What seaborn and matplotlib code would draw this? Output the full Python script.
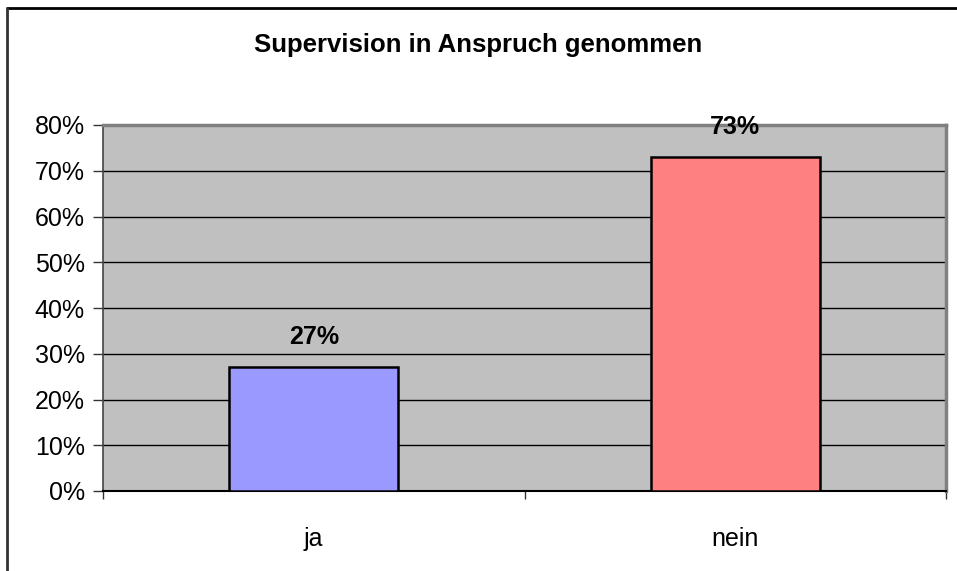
import matplotlib
matplotlib.use("Agg")
import matplotlib.pyplot as plt
import matplotlib.lines as mlines
from matplotlib.ticker import FixedLocator, FuncFormatter
import seaborn as sns
import pandas as pd

categories = ["ja", "nein"]
values = [27, 73]
colors = ["#9999FF", "#FF8080"]
title = "Supervision in Anspruch genommen"

sns.set_style("white")
plt.rcParams["font.family"] = ["Liberation Sans", "DejaVu Sans"]
plt.rcParams["text.color"] = "black"
plt.rcParams["xtick.color"] = "black"
plt.rcParams["ytick.color"] = "black"

df = pd.DataFrame({"cat": categories, "val": values})

fig = plt.figure(figsize=(9.57, 5.71), dpi=100)
ax = fig.add_axes([103/957, 1-491/571, (946-103)/957, (491-125)/571])
ax.set_facecolor("#C0C0C0")

sns.barplot(data=df, x="cat", y="val", hue="cat", palette=colors, legend=False,
            saturation=1, width=0.4, edgecolor="black", linewidth=1.8, ax=ax, zorder=3)

ax.set_ylim(0, 80)
ax.set_xlim(-0.5, 1.5)
ax.yaxis.set_major_locator(FixedLocator(range(0, 81, 10)))
ax.yaxis.set_major_formatter(FuncFormatter(lambda v, p: f"{int(v)}%"))
ax.grid(axis="y", color="black", linewidth=1, zorder=1)
ax.set_axisbelow(True)
ax.set_xlabel("")
ax.set_ylabel("")

ax.tick_params(axis="y", which="major", direction="out", length=7, width=1,
               color="#333333", labelsize=18, labelcolor="black", pad=6, left=True)
ax.tick_params(axis="x", which="major", length=0, labelsize=18, labelcolor="black", pad=26)
ax.xaxis.set_minor_locator(FixedLocator([-0.5, 0.5, 1.5]))
ax.tick_params(axis="x", which="minor", direction="out", length=6, width=1,
               color="#333333", bottom=True)

for side in ["top", "right"]:
    ax.spines[side].set_color("#808080")
    ax.spines[side].set_linewidth(2.5)
ax.spines["left"].set_color("#444444")
ax.spines["left"].set_linewidth(1.2)
ax.spines["bottom"].set_color("black")
ax.spines["bottom"].set_linewidth(1.5)

for i, v in enumerate(values):
    ax.annotate(f"{v}%", xy=(i, v), xytext=(0, 13), textcoords="offset points",
                ha="center", va="bottom", fontsize=18, fontweight="bold", color="black")

fig.text(0.5, 1-45/571, title, ha="center", va="center", fontsize=18.5,
         fontweight="bold", color="black")

# outer frame (top and left visible)
fig.add_artist(mlines.Line2D([7/957, 1], [1-7.5/571, 1-7.5/571], color="black", lw=2, transform=fig.transFigure))
fig.add_artist(mlines.Line2D([7/957, 7/957], [0, 1-7.5/571], color="#333333", lw=2, transform=fig.transFigure))

fig.savefig("out.png", dpi=100, facecolor="white")
